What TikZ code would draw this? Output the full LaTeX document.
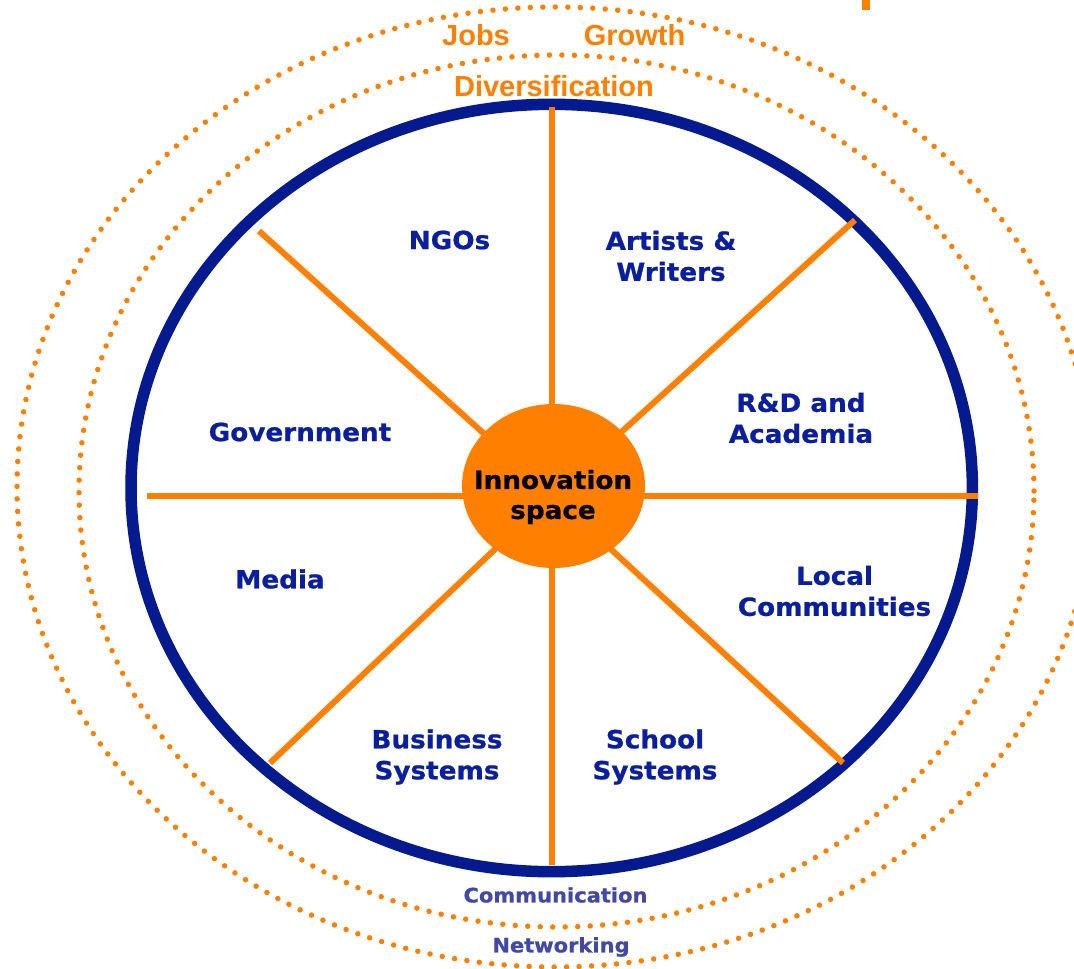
\documentclass[tikz,border=0pt]{standalone}
\usepackage{fontspec}
\setmainfont{DejaVu Sans}[FakeStretch=1.05,BoldFeatures={FakeBold=0.8}]
\newfontfamily\arialf{Liberation Sans}
\usetikzlibrary{shapes.geometric}
\definecolor{ringblue}{RGB}{4,26,142}
\definecolor{textblue}{RGB}{10,30,160}
\definecolor{softblue}{RGB}{64,72,168}
\definecolor{spokeorange}{RGB}{255,128,0}
\begin{document}
\begin{tikzpicture}[x=1pt,y=-1pt,
  ring/.style={draw=ringblue,line width=11.5pt},
  dotring/.style={draw=spokeorange,line width=5.5pt,line cap=round,dash pattern=on 0pt off 12.5pt},
  spoke/.style={draw=spokeorange,line width=6pt},
  sector/.style={text=textblue,font=\bfseries\fontsize{25}{31}\selectfont,align=center,inner sep=0pt},
  hub/.style={ellipse,fill=spokeorange,minimum width=183pt,minimum height=164pt,inner sep=0pt},
  hubtext/.style={text=black,font=\bfseries\fontsize{25}{30}\selectfont,align=center,inner sep=0pt},
  outcome/.style={text=spokeorange,font=\arialf\bfseries\fontsize{29}{29}\selectfont,inner sep=0pt},
  process/.style={text=softblue,font=\bfseries\fontsize{20}{20}\selectfont,inner sep=0pt}]
\useasboundingbox (0,0) rectangle (1074,969);
\clip (0,0) rectangle (1074,969);
% dotted outer rings
\draw[dotring] (555,487) ellipse [x radius=538pt, y radius=480pt];
\draw[dotring] (556.5,491) ellipse [x radius=477.5pt, y radius=436pt];
% small orange mark at top
\fill[spokeorange] (862,0) rectangle (870,10);
% spoke coordinates
\coordinate (hubc) at (552,495);
\coordinate (nEnd) at (552,107);
\coordinate (sEnd) at (552,865);
\coordinate (wEnd) at (147,496);
\coordinate (eEnd) at (978,496);
\coordinate (nwEnd) at (259,231);
\coordinate (neEnd) at (855,220);
\coordinate (swEnd) at (270,763);
\coordinate (seEnd) at (843,763);
% main ring
\draw[ring] (551.7,488) ellipse [x radius=420.7pt, y radius=383.7pt];
% spokes
\draw[spoke] (nEnd) -- (sEnd);
\draw[spoke] (wEnd) -- (eEnd);
\draw[spoke] (nwEnd) -- (hubc);
\draw[spoke] (neEnd) -- (hubc);
\draw[spoke] (swEnd) -- (hubc);
\draw[spoke] (seEnd) -- (hubc);
% hub
\node[hub] (core) at (553.5,486) {};
\node[hubtext] (coretext) at (553,497) {Innovation\\space};
% sectors
\node[sector] (ngo) at (449.5,240) {NGOs};
\node[sector] (art) at (671,256) {Artists \&\\Writers};
\node[sector] (gov) at (300,432) {Government};
\node[sector] (rnd) at (801,418) {R\&D and\\Academia};
\node[sector] (media) at (280,579) {Media};
\node[sector] (local) at (834.5,591) {Local\\Communities};
\node[sector] (bus) at (437,757) {Business\\Systems};
\node[sector] (school) at (655,757) {School\\Systems};
% outer ring labels
\node[outcome] (jobs) at (476,35) {Jobs};
\node[outcome] (growth) at (634.5,35) {Growth};
\node[outcome] (div) at (554,86) {Diversification};
\node[process] (comm) at (555.5,895) {Communication};
\node[process] (net) at (561,947) {Networking};
\end{tikzpicture}
\end{document}
